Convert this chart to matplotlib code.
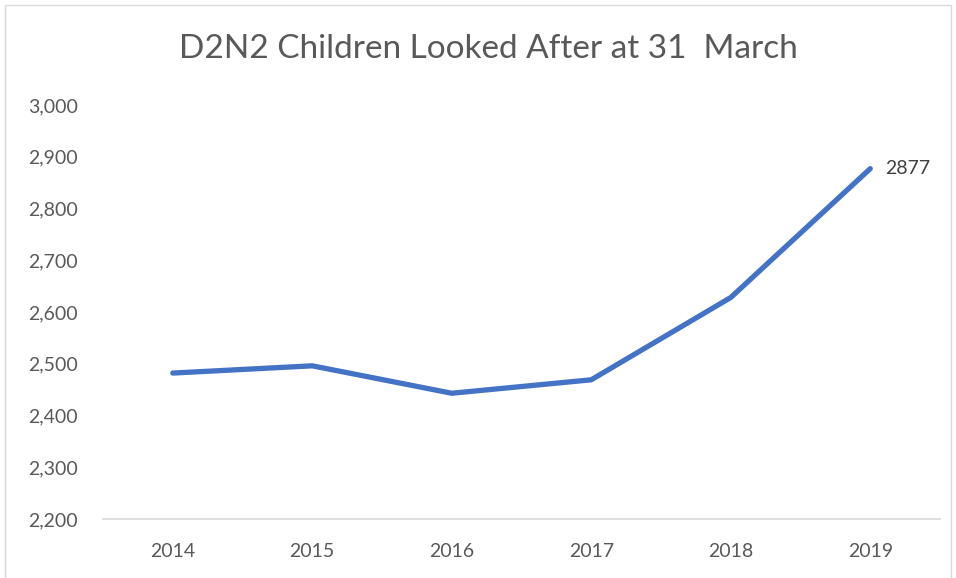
import matplotlib
matplotlib.use("Agg")
import matplotlib.pyplot as plt
from matplotlib.patches import Rectangle

years = ["2014", "2015", "2016", "2017", "2018", "2019"]
values = [2482, 2496, 2443, 2469, 2628, 2877]
yticks = [2200, 2300, 2400, 2500, 2600, 2700, 2800, 2900, 3000]

plt.rcParams['font.family'] = ['Lato', 'DejaVu Sans']

W, H = 956, 578
fig = plt.figure(figsize=(W/100, H/100), dpi=100)
ax = fig.add_axes([103/W, 1 - 519/H, (940-103)/W, (519-105)/H])

x = list(range(len(years)))
ax.plot(x, values, color="#4472C4", lw=3.8, solid_capstyle="round", solid_joinstyle="round")
ax.annotate(str(values[-1]), (x[-1], values[-1]), xytext=(11, 0), textcoords="offset points",
            va="center", ha="left", fontsize=14, color="#404040")

ax.set_xlim(-0.5, 5.5)
ax.set_ylim(2200, 3000)
ax.set_xticks(x)
ax.set_xticklabels(years)
ax.set_yticks(yticks)
ax.set_yticklabels([f"{v:,}" for v in yticks])
ax.tick_params(axis="both", length=0, labelsize=14, labelcolor="#595959")
ax.tick_params(axis="x", pad=17)
ax.tick_params(axis="y", pad=18)
for s in ["top", "right", "left"]:
    ax.spines[s].set_visible(False)
ax.spines["bottom"].set_color("#D9D9D9")
ax.spines["bottom"].set_linewidth(1.2)

fig.text(488/W, 1 - 49/H, "D2N2 Children Looked After at 31  March", ha="center", va="center",
         fontsize=24, color="#595959")

fig.patches.append(Rectangle((5/W, -0.1), (951-5)/W, 1.1 - 5/H, transform=fig.transFigure,
                             fill=False, edgecolor="#D9D9D9", lw=1))

fig.savefig("out.png", dpi=100)
